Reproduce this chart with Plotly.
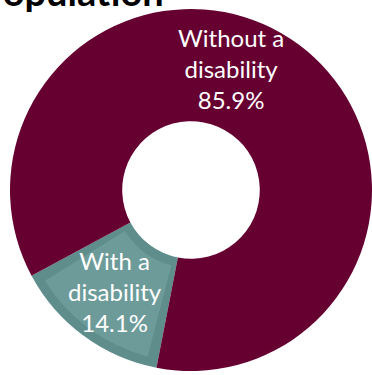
import plotly.graph_objects as go

# Share of the population by disability status
labels = ["With a disability", "Without a disability"]
label_lines = [["With a", "disability"], ["Without a", "disability"]]
shares = [14.1, 85.9]
colors = ["#5e8d8c", "#650031"]

W, H = 372, 375
CX, CY, R = 191, 185, 181   # donut centre (from bottom) and outer radius, px
HOLE = 0.38
START = 191                 # angle where the first slice begins

fig = go.Figure(
    go.Pie(
        labels=labels,
        values=shares,
        hole=HOLE,
        sort=False,
        direction="clockwise",
        rotation=START,
        marker=dict(colors=colors, line=dict(width=0)),
        textinfo="none",
        hoverinfo="label+percent",
        showlegend=False,
        domain=dict(x=[(CX - R) / W, (CX + R) / W], y=[(CY - R) / H, (CY + R) / H]),
    )
)

# Lighter inner face of the small slice (bevelled look)
inset = 9
r2 = R - inset
gap = 3.6  # degrees trimmed from each side of the slice
small = shares[0] - 2 * gap / 3.6
fig.add_trace(
    go.Pie(
        values=[small, 100 - small],
        hole=(R * HOLE + inset) / r2,
        sort=False,
        direction="clockwise",
        rotation=START + gap,
        marker=dict(colors=["#6c9b9a", "rgba(0,0,0,0)"], line=dict(width=0)),
        textinfo="none",
        hoverinfo="skip",
        showlegend=False,
        domain=dict(x=[(CX - r2) / W, (CX + r2) / W], y=[(CY - r2) / H, (CY + r2) / H]),
    )
)

# Slice labels, written in white over each slice
label_pos = [(115, 291), (231, 69)]
annotations = []
for lines, v, (px, py) in zip(label_lines, shares, label_pos):
    annotations.append(
        dict(
            text="<br>".join(lines + [f"{v}%"]),
            x=px / W,
            y=1 - py / H,
            xref="paper",
            yref="paper",
            xanchor="center",
            yanchor="middle",
            showarrow=False,
            font=dict(family="Lato", size=24, color="white"),
        )
    )

# Chart heading
annotations.append(
    dict(
        text="<b>Population</b>",
        x=166 / W,
        y=1 - 16 / H,
        xref="paper",
        yref="paper",
        xanchor="right",
        yanchor="bottom",
        showarrow=False,
        font=dict(family="Lato", size=38, color="black"),
    )
)

fig.update_layout(
    width=W,
    height=H,
    margin=dict(l=0, r=0, t=0, b=0),
    paper_bgcolor="white",
    plot_bgcolor="white",
    annotations=annotations,
)

fig.write_html("out.html")
